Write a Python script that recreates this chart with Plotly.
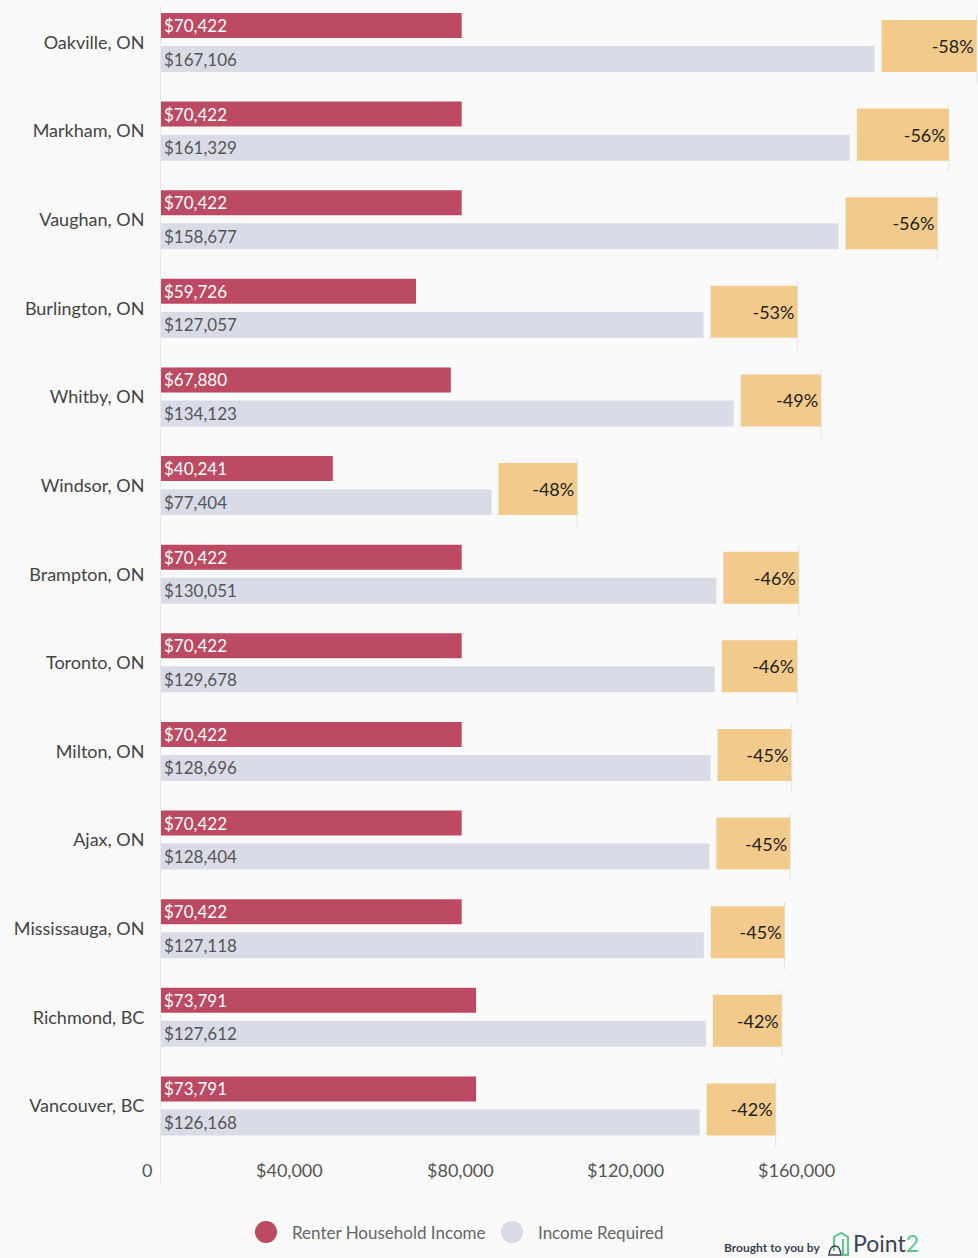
import plotly.graph_objects as go

cities = ["Oakville, ON", "Markham, ON", "Vaughan, ON", "Burlington, ON", "Whitby, ON",
          "Windsor, ON", "Brampton, ON", "Toronto, ON", "Milton, ON", "Ajax, ON",
          "Mississauga, ON", "Richmond, BC", "Vancouver, BC"]
renter_income = [70422, 70422, 70422, 59726, 67880, 40241, 70422, 70422, 70422, 70422,
                 70422, 73791, 73791]
income_required = [167106, 161329, 158677, 127057, 134123, 77404, 130051, 129678, 128696,
                   128404, 127118, 127612, 126168]
gap_pct = [-58, -56, -56, -53, -49, -48, -46, -46, -45, -45, -45, -42, -42]
tick_values = [0, 40000, 80000, 120000, 160000]
tick_labels = ["0", "$40,000", "$80,000", "$120,000", "$160,000"]

W, H = 978, 1258
L, R, T, B = 161, 0, 6, 75
PW, PH = W - L - R, H - T - B
XMAX = 191330

RED = "#BC4A62"
GREY = "#D9DCE7"
ORANGE = "#F2CB8C"
BG = "#FAFAFA"
FONT = "Lato"

idx = list(range(len(cities)))
box_gap = 1640          # spacing between grey bar and % box (data units)
box_scale = 384         # data units per percentage point of box length
box_base = [r + box_gap for r in income_required]
box_len = [abs(p) * box_scale for p in gap_pct]

def px_x(px):
    return (px - L) / PW

def px_y(py):
    return (H - B - py) / PH

fig = go.Figure()
fig.add_trace(go.Bar(
    y=idx, x=renter_income, orientation="h", name="Renter Household Income",
    marker=dict(color=RED, line=dict(width=0)), width=0.282, offset=-0.333,
    text=[f"${v:,}" for v in renter_income], textposition="inside", constraintext="none",
    insidetextanchor="start", textfont=dict(color="white", size=17, family=FONT),
    showlegend=False, hoverinfo="skip"))
fig.add_trace(go.Bar(
    y=idx, x=income_required, orientation="h", name="Income Required",
    marker=dict(color=GREY, line=dict(width=0)), width=0.293, offset=0.04,
    text=[f"${v:,}" for v in income_required], textposition="inside", constraintext="none",
    insidetextanchor="start", textfont=dict(color="#555555", size=17, family=FONT),
    showlegend=False, hoverinfo="skip"))
fig.add_trace(go.Bar(
    y=idx, x=box_len, base=box_base, orientation="h", name="Gap",
    marker=dict(color=ORANGE, line=dict(width=0)), width=0.587, offset=-0.254,
    text=[f"{p}%" for p in gap_pct], textposition="inside", constraintext="none",
    insidetextanchor="end", textfont=dict(color="#222222", size=18, family=FONT),
    showlegend=False, hoverinfo="skip"))

shapes = []
for i in idx:
    xe = box_base[i] + box_len[i]
    shapes.append(dict(type="line", xref="x", yref="y", x0=xe, x1=xe,
                       y0=i - 0.254 - 0.06, y1=i + 0.333 + 0.13,
                       line=dict(color="#E6E6E6", width=1), layer="below"))

annotations = []
for v, t in zip(tick_values, tick_labels):
    annotations.append(dict(x=v, y=px_y(1170), xref="x", yref="paper", text=t,
                            showarrow=False, xanchor="right", yanchor="middle", xshift=-7,
                            font=dict(size=18, color="#555555", family=FONT)))

# legend
for cx, color, label in [(266, RED, "Renter Household Income"), (512, GREY, "Income Required")]:
    shapes.append(dict(type="circle", xref="paper", yref="paper",
                       x0=px_x(cx - 11), x1=px_x(cx + 11), y0=px_y(1232 + 11), y1=px_y(1232 - 11),
                       fillcolor=color, line=dict(width=0)))
    annotations.append(dict(x=px_x(cx + 24), y=px_y(1232), xref="paper", yref="paper",
                            text=label, showarrow=False, xanchor="left", yanchor="middle",
                            font=dict(size=17, color="#666666", family=FONT)))

# branding
annotations.append(dict(x=px_x(822), y=px_y(1247), xref="paper", yref="paper",
                        text="<b>Brought to you by</b>", showarrow=False, xanchor="right",
                        yanchor="middle", font=dict(size=12, color="#3B4454", family=FONT)))
annotations.append(dict(x=px_x(851), y=px_y(1243), xref="paper", yref="paper",
                        text="<span style='color:#3B4454'>Point</span><span style='color:#5CC98C'>2</span>",
                        showarrow=False, xanchor="left", yanchor="middle",
                        font=dict(size=23, family=FONT)))
# logo icon
shapes.append(dict(type="path", xref="paper", yref="paper",
                   path=f"M {px_x(834)},{px_y(1251)} L {px_x(834)},{px_y(1237)} L {px_x(841)},{px_y(1233)} "
                        f"L {px_x(848)},{px_y(1237)} L {px_x(848)},{px_y(1255)} L {px_x(843)},{px_y(1255)} "
                        f"L {px_x(843)},{px_y(1239)}",
                   line=dict(color="#5CC98C", width=2)))
shapes.append(dict(type="path", xref="paper", yref="paper",
                   path=f"M {px_x(829)},{px_y(1255)} Q {px_x(830)},{px_y(1246)} {px_x(835)},{px_y(1246)} "
                        f"Q {px_x(840)},{px_y(1246)} {px_x(841)},{px_y(1255)} Z",
                   line=dict(color="#3B4454", width=1.5), fillcolor="rgba(0,0,0,0)"))

fig.update_layout(
    width=W, height=H, margin=dict(l=L, r=R, t=T, b=B),
    paper_bgcolor=BG, plot_bgcolor=BG, barmode="overlay",
    font=dict(family=FONT, color="#444444"),
    shapes=shapes, annotations=annotations,
    xaxis=dict(range=[0, XMAX], showgrid=False, zeroline=False, showticklabels=False,
               ticks="", fixedrange=True),
    yaxis=dict(range=[12.87, -0.412], tickvals=idx, ticktext=cities, showgrid=False,
               zeroline=False, showline=True, linecolor="#E8E8E8", linewidth=1,
               ticks="", ticklabelstandoff=12, fixedrange=True,
               tickfont=dict(size=18, color="#444444", family=FONT)),
)

fig.write_html("out.html", config={"displayModeBar": False},
               post_script="document.body.style.margin='0';document.body.style.background='#FAFAFA';")
